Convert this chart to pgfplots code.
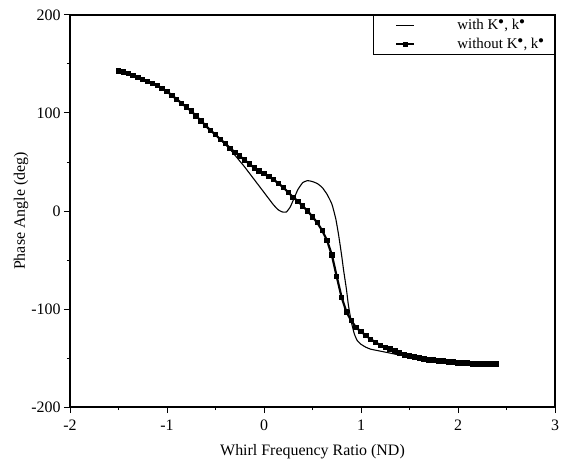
\documentclass[border=0pt]{standalone}
\usepackage{pgfplots}
\pgfplotsset{compat=1.18}
\usepackage{fontspec}
\setmainfont{Liberation Serif}
\begin{document}
\begin{tikzpicture}
\begin{axis}[
  scale only axis,
  width=485bp, height=392bp,
  xmin=-2, xmax=3, ymin=-200, ymax=200,
  xtick={-2,-1,0,1,2,3},
  ytick={-200,-100,0,100,200},
  minor xtick={-1.5,-0.5,0.5,1.5,2.5},
  minor ytick={-150,-50,50,150},
  xtick pos=bottom, ytick pos=left,
  tick align=outside,
  major tick length=6bp, minor tick length=3bp,
  every tick/.style={black, line width=1pt},
  axis line style={line width=1.4pt},
  /pgf/number format/assume math mode=true,
  tick label style={font=\fontsize{16}{18}\selectfont},
  xticklabel style={yshift=-3bp},
  xlabel={Whirl Frequency Ratio (ND)},
  ylabel={Phase Angle (deg)},
  label style={font=\fontsize{16}{18}\selectfont},
  xlabel style={yshift=-7bp},
  ylabel style={yshift=-4bp},
  legend style={at={(1,1)}, anchor=north east, draw=black, line width=1.2pt,
    font=\fontsize{15}{17}\selectfont, row sep=3pt,
    inner xsep=0bp, inner ysep=2bp,
    /tikz/every odd column/.append style={column sep=40bp}},
  legend cell align=left,
  legend image code/.code={%
    \path (0bp,0bp);
    \draw[mark repeat=2,mark phase=2,#1] plot coordinates {(22bp,0bp) (31bp,0bp) (40bp,0bp)};},
]
\addplot[black, line width=1.1pt, smooth, tension=0.3] coordinates {
(-1.50,143) (-1.45,142) (-1.40,140) (-1.35,138) (-1.30,136) (-1.25,134) (-1.20,132)
(-1.15,130) (-1.10,128) (-1.05,125) (-1.00,122) (-0.95,118) (-0.90,114) (-0.85,110)
(-0.80,106) (-0.75,102) (-0.70,97) (-0.65,92) (-0.60,87) (-0.55,82) (-0.50,78)
(-0.45,73) (-0.40,68) (-0.35,63) (-0.30,57) (-0.25,51) (-0.20,45) (-0.10,32)
(0.00,19) (0.10,6) (0.15,1) (0.19,-1) (0.23,-1) (0.27,4) (0.31,13) (0.35,22)
(0.40,29) (0.45,31) (0.50,30) (0.55,28) (0.60,24) (0.65,17) (0.70,7) (0.74,-8)
(0.77,-25) (0.80,-45) (0.82,-60) (0.85,-80) (0.87,-96) (0.90,-113) (0.93,-125)
(0.96,-132) (1.00,-136) (1.05,-139) (1.10,-141) (1.20,-143) (1.30,-145) (1.40,-147)
(1.50,-148) (1.60,-150) (1.70,-151) (1.80,-152) (1.90,-153) (2.00,-154)
};
\addlegendentry{with K$^{\bullet}$, k$^{\bullet}$}
\addplot[black, line width=2.2pt, mark=square*, mark size=1.6pt] coordinates {
(-1.50,143) (-1.45,142) (-1.40,140) (-1.35,138) (-1.30,136) (-1.25,134) (-1.20,132)
(-1.15,130) (-1.10,128) (-1.05,125) (-1.00,122) (-0.95,118) (-0.90,114) (-0.85,110)
(-0.80,106) (-0.75,102) (-0.70,97) (-0.65,92) (-0.60,87) (-0.55,82) (-0.50,78)
(-0.45,73) (-0.40,69) (-0.35,64) (-0.30,60) (-0.25,56) (-0.20,52) (-0.15,48)
(-0.10,44) (-0.05,41) (0.00,38) (0.05,35) (0.10,32) (0.15,28) (0.20,24) (0.25,19)
(0.30,14) (0.35,10) (0.40,5) (0.45,0) (0.50,-6) (0.55,-12) (0.60,-20) (0.65,-30)
(0.70,-45) (0.75,-67) (0.80,-88) (0.85,-103) (0.90,-112) (0.95,-119) (1.00,-123)
(1.05,-127) (1.10,-131) (1.15,-134) (1.20,-137) (1.25,-139) (1.30,-141) (1.35,-143)
(1.40,-145) (1.45,-147) (1.50,-148) (1.55,-149) (1.60,-150) (1.65,-151) (1.70,-152)
(1.75,-152) (1.80,-153) (1.85,-153) (1.90,-154) (1.95,-154) (2.00,-155) (2.05,-155)
(2.10,-155) (2.15,-156) (2.20,-156) (2.25,-156) (2.30,-156) (2.35,-156) (2.40,-156)
};
\addlegendentry{without K$^{\bullet}$, k$^{\bullet}$\hspace*{8bp}}
\end{axis}
\pgfresetboundingbox
\useasboundingbox ([xshift=-70bp,yshift=-60bp]current axis.south west) rectangle ([xshift=13bp,yshift=15bp]current axis.north east);
\end{tikzpicture}
\end{document}
